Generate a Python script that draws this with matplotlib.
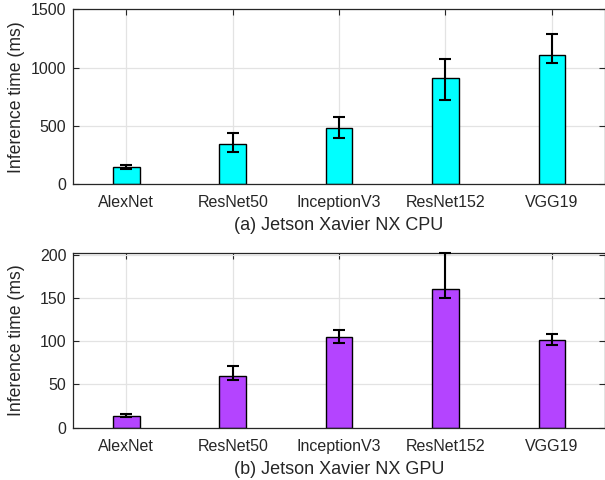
import matplotlib
matplotlib.use("Agg")
import matplotlib.pyplot as plt
import numpy as np

models = ["AlexNet", "ResNet50", "InceptionV3", "ResNet152", "VGG19"]

cpu_mean = [143, 343, 483, 914, 1109]
cpu_err_low = [17, 72, 92, 191, 72]
cpu_err_high = [20, 97, 91, 160, 180]

gpu_mean = [13.1, 59.2, 105.4, 160.4, 100.8]
gpu_err_low = [1.2, 4.2, 7.4, 10.8, 5.4]
gpu_err_high = [2.3, 12.3, 7.6, 42.1, 8.0]

cpu_yticks = [0, 500, 1000, 1500]
gpu_yticks = [0, 50, 100, 150, 200]

plt.rcParams['font.family'] = ['Liberation Sans', 'DejaVu Sans']

fig = plt.figure(figsize=(6.05, 4.8), dpi=100)
W, H = 605, 480

def make_ax(top_px, bottom_px):
    left = 73.2 / W
    right = 605.0 / W
    return fig.add_axes([left, 1 - bottom_px / H, right - left, (bottom_px - top_px) / H])

ax1 = make_ax(9.3, 184.0)
ax2 = make_ax(252.7, 427.5)

spine_col = '#262626'

def style(ax, mean, lo, hi, color, yticks, ylim, xlabel):
    x = np.arange(1, len(models) + 1)
    ax.set_axisbelow(True)
    ax.grid(True, color='#e3e3e3', linewidth=0.9)
    ax.bar(x, mean, width=0.25, color=color, edgecolor='black', linewidth=1.0, zorder=2)
    ax.errorbar(x, mean, yerr=[lo, hi], fmt='none', ecolor='black', elinewidth=1.5,
                capsize=4.5, capthick=1.5, zorder=3, clip_on=False)
    ax.set_xlim(0.5, 5.5)
    ax.set_ylim(*ylim)
    ax.set_xticks(x)
    ax.set_xticklabels(models)
    ax.set_yticks(yticks)
    ax.tick_params(axis='both', direction='in', length=4, width=0.8, color=spine_col,
                   labelsize=11.5, labelcolor='#262626', top=True, right=True)
    ax.tick_params(axis='x', pad=8)
    ax.tick_params(axis='y', pad=5)
    for s in ax.spines.values():
        s.set_color(spine_col)
        s.set_linewidth(0.9)
    ax.set_ylabel('Inference time (ms)', fontsize=12.7, color='#262626')
    ax.yaxis.set_label_coords(-0.091, 0.5)
    ax.set_xlabel(xlabel, fontsize=13, color='#262626', labelpad=5)

style(ax1, cpu_mean, cpu_err_low, cpu_err_high, '#00FFFF', cpu_yticks, (0, 1500),
      '(a) Jetson Xavier NX CPU')
style(ax2, gpu_mean, gpu_err_low, gpu_err_high, '#B444FF', gpu_yticks, (0, 202.5),
      '(b) Jetson Xavier NX GPU')

fig.savefig('out.png', dpi=100)
